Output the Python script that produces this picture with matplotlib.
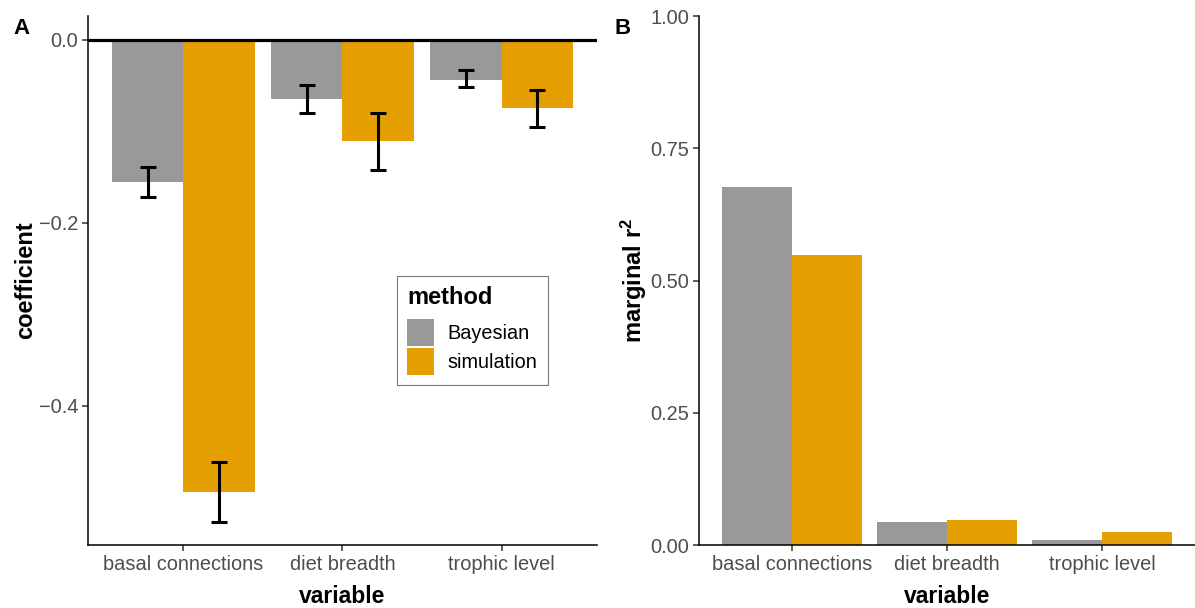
import matplotlib.pyplot as plt
import numpy as np
from matplotlib.patches import Patch

plt.rcParams['font.family'] = ['Liberation Sans', 'DejaVu Sans']
plt.rcParams['mathtext.fontset'] = 'custom'
plt.rcParams['mathtext.rm'] = 'Liberation Sans'
plt.rcParams['mathtext.bf'] = 'Liberation Sans:bold'

# ==========================
# DADOS
# ==========================
variaveis = ["basal connections", "diet breadth", "trophic level"]
metodos = ["Bayesian", "simulation"]
cores = ["#999999", "#E69F00"]

coef_bayes = [-0.155, -0.0645, -0.0437]
coef_sim = [-0.494, -0.111, -0.075]
erro_bayes_baixo = [-0.172, -0.080, -0.052]
erro_bayes_alto = [-0.139, -0.049, -0.033]
erro_sim_baixo = [-0.527, -0.142, -0.095]
erro_sim_alto = [-0.461, -0.080, -0.055]

r2_bayes = [0.677, 0.0435, 0.0095]
r2_sim = [0.548, 0.047, 0.0245]

cinza_texto = "#4D4D4D"


def estilo_eixo(ax):
    for lado in ["top", "right"]:
        ax.spines[lado].set_visible(False)
    for lado in ["left", "bottom"]:
        ax.spines[lado].set_linewidth(1.1)
        ax.spines[lado].set_color("black")
    ax.tick_params(axis="both", labelsize=14.4, labelcolor=cinza_texto,
                   color="#333333", length=4, width=1.1, pad=3)
    ax.set_xticks(range(len(variaveis)))
    ax.set_xticklabels(variaveis)
    ax.set_xlim(-0.6, len(variaveis) - 0.4)
    ax.set_xlabel("variable", fontsize=16.5, fontweight="bold", labelpad=8)


fig = plt.figure(figsize=(11.95, 6.08), dpi=100)

# ==========================
# PAINEL A
# ==========================
axA = fig.add_axes([0.0736, 0.1036, 0.426, 0.870])
x = np.arange(len(variaveis))
w = 0.45

axA.bar(x - w / 2, coef_bayes, width=w, color=cores[0], zorder=2)
axA.bar(x + w / 2, coef_sim, width=w, color=cores[1], zorder=2)

for xs, baixo, alto in [(x - w / 2, erro_bayes_baixo, erro_bayes_alto),
                        (x + w / 2, erro_sim_baixo, erro_sim_alto)]:
    centro = (np.array(baixo) + np.array(alto)) / 2
    yerr = [centro - np.array(baixo), np.array(alto) - centro]
    axA.errorbar(xs, centro, yerr=yerr, fmt="none", ecolor="black",
                 elinewidth=2.2, capsize=5.5, capthick=2.2, zorder=3)

axA.axhline(0, color="black", linewidth=2.3, zorder=4)
axA.set_ylim(-0.552, 0.026)
axA.set_yticks([0.0, -0.2, -0.4])
axA.set_yticklabels(["0.0", "\u22120.2", "\u22120.4"])
axA.set_ylabel("coefficient", fontsize=17, fontweight="bold", labelpad=1)
estilo_eixo(axA)

handles = [Patch(facecolor=c, edgecolor="none") for c in cores]
leg = axA.legend(handles, metodos, title="method", loc="upper left",
                 bbox_to_anchor=(397 / 1195, 1 - 276 / 608),
                 bbox_transform=fig.transFigure, borderaxespad=0,
                 fontsize=14.3, title_fontsize=17, frameon=True, fancybox=False,
                 handlelength=1.36, handleheight=1.72, handletextpad=0.7,
                 labelspacing=0.1, borderpad=0.5, alignment="left")
leg.get_title().set_fontweight("bold")
leg.get_frame().set_edgecolor("#555555")
leg.get_frame().set_linewidth(0.8)
leg._legend_box.sep = 7

fig.text(13 / 1195, 1 - 28 / 608, "A", fontsize=16, fontweight="bold",
         va="center", ha="left")

# ==========================
# PAINEL B
# ==========================
axB = fig.add_axes([0.585, 0.1036, 0.415, 0.870])
axB.bar(x - w / 2, r2_bayes, width=w, color=cores[0], zorder=2)
axB.bar(x + w / 2, r2_sim, width=w, color=cores[1], zorder=2)
axB.set_ylim(0, 1.0)
axB.set_yticks([0.0, 0.25, 0.5, 0.75, 1.0])
axB.set_yticklabels(["0.00", "0.25", "0.50", "0.75", "1.00"])
axB.set_ylabel(r"marginal $\mathbf{r^2}$", fontsize=17, fontweight="bold",
               labelpad=1)
estilo_eixo(axB)

fig.text(614 / 1195, 1 - 28 / 608, "B", fontsize=16, fontweight="bold",
         va="center", ha="left")

fig.savefig("out.png", dpi=100)
